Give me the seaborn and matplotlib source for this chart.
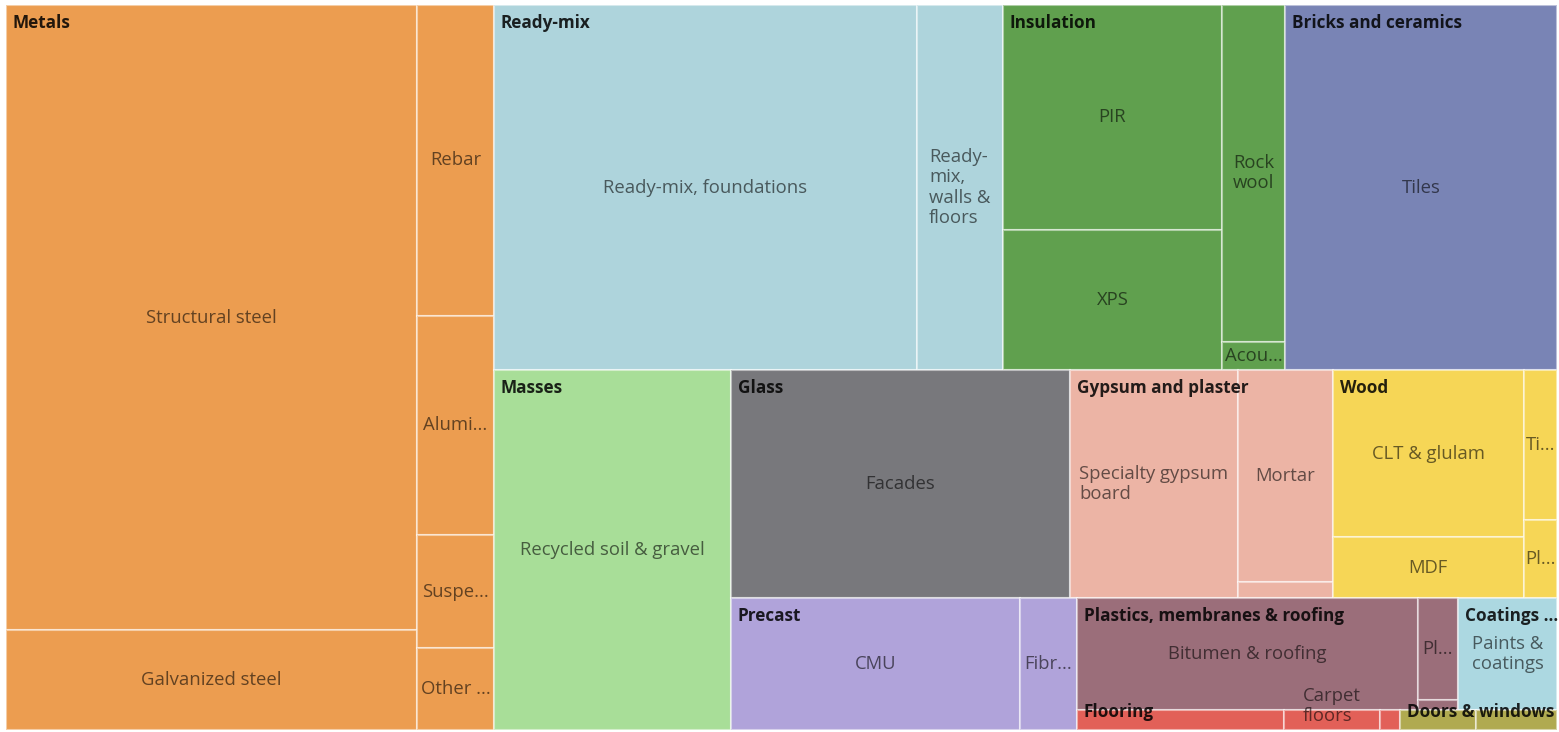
import matplotlib
matplotlib.use("Agg")
import matplotlib.pyplot as plt
from matplotlib.patches import Rectangle
import seaborn as sns

sns.set_theme(style="white")
plt.rcParams["font.family"] = ["Open Sans", "DejaVu Sans"]

# ---------------------------------------------------------------- data
groups = ["Metals", "Ready-mix", "Insulation", "Bricks and ceramics", "Masses",
          "Glass", "Gypsum and plaster", "Wood", "Precast",
          "Plastics, membranes & roofing", "Coatings", "Flooring",
          "Doors & windows"]
group_titles = ["Metals", "Ready-mix", "Insulation", "Bricks and ceramics", "Masses",
                "Glass", "Gypsum and plaster", "Wood", "Precast",
                "Plastics, membranes & roofing", "Coatings ...", "Flooring",
                "Doors & windows"]
group_colors = ["#EC9D50", "#AED4DC", "#60A04E", "#7984B5", "#A8DE98",
                "#78787C", "#ECB4A5", "#F6D656", "#B0A3DA",
                "#9B6E7A", "#ACD8E1", "#E26058", "#B0AA50"]

metals_items = ["Structural steel", "Galvanized steel", "Rebar", "Alumi...", "Suspe...", "Other ..."]
metals_values = [2569, 411, 239, 169, 87, 63]

readymix_items = ["Ready-mix, foundations", "Ready-\nmix,\nwalls &\nfloors"]
readymix_values = [1544, 314]

insulation_items = ["PIR", "XPS", "Rock\nwool", "Acou..."]
insulation_values = [493, 307, 212, 18]

bricks_items = ["Tiles"]
bricks_values = [993]

masses_items = ["Recycled soil & gravel"]
masses_values = [853]

glass_items = ["Facades"]
glass_values = [773]

gypsum_items = ["Specialty gypsum\nboard", "Mortar", "Plaster"]
gypsum_values = [383, 201, 15]

wood_items = ["CLT & glulam", "MDF", "Ti...", "Pl..."]
wood_values = [319, 117, 50, 26]

precast_items = ["CMU", "Fibr..."]
precast_values = [381, 75]

plastics_items = ["Bitumen & roofing", "Pl...", "Other plastics"]
plastics_values = [382, 41, 4]

coatings_items = ["Paints &\ncoatings"]
coatings_values = [111]

flooring_items = ["Vinyl floors", "Carpet\nfloors", "Other floors"]
flooring_values = [41, 19, 4]

doors_items = ["Doors", "Windows"]
doors_values = [15, 16]

# leaves that are too small to carry their own caption
unlabeled = {"Plaster", "Other plastics", "Vinyl floors", "Other floors", "Doors", "Windows"}

group_items = [metals_items, readymix_items, insulation_items, bricks_items, masses_items,
               glass_items, gypsum_items, wood_items, precast_items, plastics_items,
               coatings_items, flooring_items, doors_items]
group_values = [metals_values, readymix_values, insulation_values, bricks_values, masses_values,
                glass_values, gypsum_values, wood_values, precast_values, plastics_values,
                coatings_values, flooring_values, doors_values]

# how many leaves go in each column of a group tile
group_columns = [[2, 4], [1, 1], [2, 2], [1], [1], [1], [1, 2], [2, 2], [1, 1],
                 [1, 2], [1], [1, 1, 1], [1, 1]]

# nesting of group tiles: "h" splits side by side, "v" stacks top to bottom
group_layout = ("h", [0, ("v", [("h", [1, 2, 3]),
                                ("h", [4, ("v", [("h", [5, 6, 7]),
                                                 ("h", [8, ("v", [("h", [9, 10]),
                                                                  ("h", [11, 12])])])])])])])

# ---------------------------------------------------------------- layout
W, H = 1551.0, 725.0


def node_total(node):
    if isinstance(node, int):
        return float(sum(group_values[node]))
    return sum(node_total(c) for c in node[1])


group_rects = {}


def place(node, x, y, w, h):
    if isinstance(node, int):
        group_rects[node] = (x, y, w, h)
        return
    direction, children = node
    tot = node_total(node)
    pos = 0.0
    for c in children:
        frac = node_total(c) / tot
        if direction == "h":
            place(c, x + pos * w, y, w * frac, h)
        else:
            place(c, x, y + pos * h, w, h * frac)
        pos += frac


place(group_layout, 0.0, 0.0, W, H)

# ---------------------------------------------------------------- drawing
fig = plt.figure(figsize=(15.59, 7.32), dpi=100)
ax = fig.add_axes([6 / 1559, 2 / 732, W / 1559, H / 732])
ax.set_xlim(0, W)
ax.set_ylim(H, 0)
ax.axis("off")

leaf_fs = 13.3
group_fs = 12.3
line_px = leaf_fs * 100 / 72 * 1.18

palette = sns.color_palette(group_colors)

for gi in range(len(groups)):
    gx, gy, gw, gh = group_rects[gi]
    items = group_items[gi]
    vals = group_values[gi]
    gtot = float(sum(vals))
    k = 0
    cx = gx
    for ncol in group_columns[gi]:
        col_items = items[k:k + ncol]
        col_vals = vals[k:k + ncol]
        k += ncol
        ctot = float(sum(col_vals))
        cw = gw * ctot / gtot
        cy = gy
        for name, v in zip(col_items, col_vals):
            ch = gh * v / ctot
            ax.add_patch(Rectangle((cx, cy), cw, ch, facecolor=palette[gi],
                                   edgecolor=(1, 1, 1, 0.5), linewidth=1.5))
            if name not in unlabeled:
                nlines = name.count("\n") + 1
                half = nlines * line_px / 2
                ty = min(cy + ch / 2, H - half - 2)
                ax.text(cx + cw / 2, ty, name, ha="center", va="center",
                        multialignment="left", fontsize=leaf_fs,
                        color=(0, 0, 0, 0.58), linespacing=1.15)
            cy += ch
        cx += cw

for gi in range(len(groups)):
    gx, gy, gw, gh = group_rects[gi]
    ty = min(gy + 18, H - 18)
    ax.text(gx + 7, ty, group_titles[gi], ha="left", va="center",
            fontsize=group_fs, fontweight="bold", color=(0, 0, 0, 0.85))

fig.savefig("out.png", dpi=100, facecolor="white")
